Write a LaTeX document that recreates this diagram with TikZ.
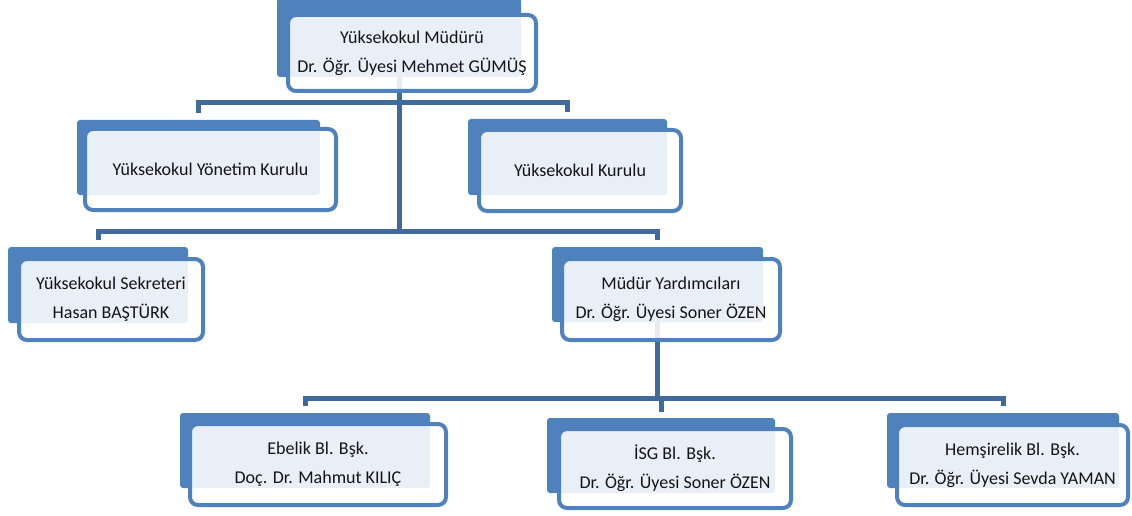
\documentclass[tikz,border=0pt]{standalone}
\usepackage{fontspec}
\setmainfont{Carlito}
\usepackage{tikz}
\definecolor{boxblue}{HTML}{4F81BD}
\definecolor{lineblue}{HTML}{41699B}
\definecolor{txt}{HTML}{141414}

\begin{document}
\begin{tikzpicture}[x=1pt, y=-1pt,
  back/.style={fill=boxblue, rounded corners=3pt, inner sep=0pt},
  front/.style={draw=boxblue, line width=4pt, fill=white, fill opacity=0.88, text opacity=1,
    rounded corners=8pt, inner sep=0pt, align=center, text=txt,
    font=\fontsize{18}{29}\selectfont},
  conn/.style={draw=lineblue, line width=5pt}]
\useasboundingbox (0,0) rectangle (1132,516);
\node[back, minimum width=244pt, minimum height=79pt] (mudurB) at (399,37.5) {};
\node[back, minimum width=243pt, minimum height=75pt] (yonetimB) at (198.5,157.5) {};
\node[back, minimum width=199pt, minimum height=76pt] (kurulB) at (567.5,157) {};
\node[back, minimum width=180pt, minimum height=76pt] (sekrB) at (98,285) {};
\node[back, minimum width=211pt, minimum height=75pt] (yardB) at (657.5,284.5) {};
\node[back, minimum width=250pt, minimum height=75pt] (ebelikB) at (305,450.5) {};
\node[back, minimum width=228pt, minimum height=75pt] (isgB) at (661,455.5) {};
\node[back, minimum width=232pt, minimum height=75pt] (hemsB) at (1003,450.5) {};
\coordinate (bar1) at (398,103);
\coordinate (bar2) at (398,231);
\coordinate (bar3) at (657,398);
\draw[conn] (mudurB.south) -- (mudurB.south |- bar2);
\draw[conn] ([yshift=7pt]yonetimB.north) |- (bar1) -| ([yshift=7pt]kurulB.north);
\draw[conn] ([yshift=7pt]sekrB.north) |- (bar2) -| ([yshift=7pt]yardB.north);
\draw[conn] (yardB.south) -- (yardB.south |- bar3);
\draw[conn] ([yshift=7pt]ebelikB.north) |- (bar3) -| ([yshift=7pt]hemsB.north);
\draw[conn] (isgB.north |- bar3) -- ([yshift=6pt]isgB.north);
\node[front, minimum width=248pt, minimum height=76pt] (mudur) at (412,53) {Yüksekokul Müdürü\\Dr. Öğr. Üyesi Mehmet GÜMÜŞ};
\node[front, minimum width=251pt, minimum height=81pt] (yonetim) at (210.5,169.5) {Yüksekokul Yönetim Kurulu};
\node[front, minimum width=202pt, minimum height=81pt] (kurul) at (580,170.5) {Yüksekokul Kurulu};
\node[front, minimum width=184pt, minimum height=81pt] (sekr) at (111,299.5) {Yüksekokul Sekreteri\\Hasan BAŞTÜRK};
\node[front, minimum width=218pt, minimum height=81pt] (yard) at (671,299.5) {Müdür Yardımcıları\\Dr. Öğr. Üyesi Soner ÖZEN};
\node[front, minimum width=256pt, minimum height=81pt] (ebelik) at (318,464.5) {Ebelik Bl. Bşk.\\Doç. Dr. Mahmut KILIÇ};
\node[front, minimum width=232pt, minimum height=79pt] (isg) at (675,468.5) {İSG Bl. Bşk.\\Dr. Öğr. Üyesi Soner ÖZEN};
\node[front, minimum width=231pt, minimum height=80pt] (hems) at (1012.5,465) {Hemşirelik Bl. Bşk.\\Dr. Öğr. Üyesi Sevda YAMAN};
\end{tikzpicture}
\end{document}
